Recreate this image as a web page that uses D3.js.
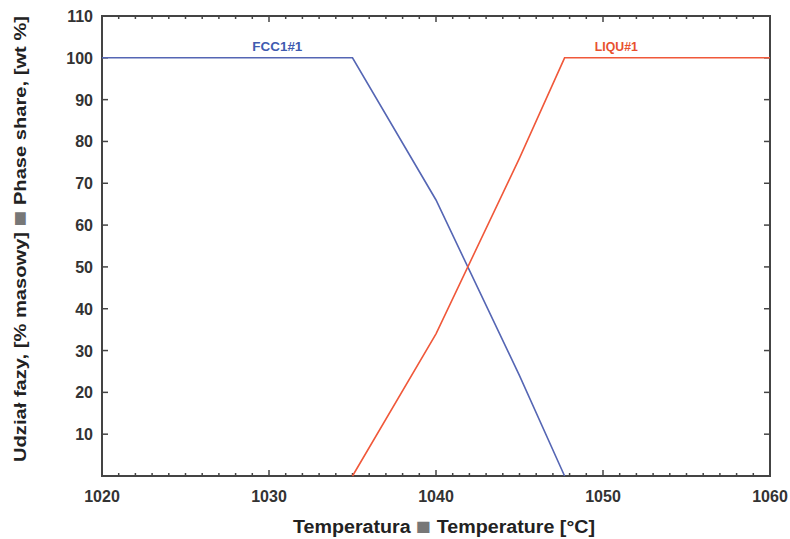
<!DOCTYPE html>
<html>
<head>
<meta charset="utf-8">
<script src="https://cdn.jsdelivr.net/npm/d3@7"></script>
<style>
  body { margin: 0; background: #fff; }
  svg { display: block; font-family: Arial, "Liberation Sans", sans-serif; }
</style>
</head>
<body>
<svg id="chart" width="790" height="539"></svg>
<script>
// Phase share vs temperature (wt %)
const temperatures = [1020, 1035, 1040, 1045, 1047.7, 1060];
const fccValues    = [100, 100, 66, 24, 0, null];
const liquValues   = [null, 0, 34, 76, 100, 100];
const seriesNames  = ["FCC1#1", "LIQU#1"];
const xTickValues  = [1020, 1030, 1040, 1050, 1060];
const yTickValues  = [10, 20, 30, 40, 50, 60, 70, 80, 90, 100, 110];

const svg = d3.select("#chart");
const margin = { left: 102, right: 20, top: 16, bottom: 63 };
const W = 790, H = 539;
const x = d3.scaleLinear().domain([1020, 1060]).range([margin.left, W - margin.right]);
const y = d3.scaleLinear().domain([0, 110]).range([H - margin.bottom, margin.top]);

const axisColor = "#444";
const textColor = "#333";

// minor ticks every degree on bottom and top, pointing inward
const minorX = d3.range(1021, 1060, 1).filter(v => v % 10 !== 0);
const bottomY = y(0), topY = y(110);
const tickG = svg.append("g").attr("stroke", axisColor).attr("stroke-width", 1.5);
minorX.forEach(v => {
  tickG.append("line").attr("x1", x(v)).attr("x2", x(v)).attr("y1", bottomY).attr("y2", bottomY - 3);
  tickG.append("line").attr("x1", x(v)).attr("x2", x(v)).attr("y1", topY).attr("y2", topY + 3);
});
xTickValues.forEach(v => {
  tickG.append("line").attr("x1", x(v)).attr("x2", x(v)).attr("y1", bottomY).attr("y2", bottomY - 6);
  tickG.append("line").attr("x1", x(v)).attr("x2", x(v)).attr("y1", topY).attr("y2", topY + 6);
});
yTickValues.forEach(v => {
  tickG.append("line").attr("x1", x(1020)).attr("x2", x(1020) + 6).attr("y1", y(v)).attr("y2", y(v));
  tickG.append("line").attr("x1", x(1060)).attr("x2", x(1060) - 6).attr("y1", y(v)).attr("y2", y(v));
});

// frame
svg.append("rect")
  .attr("x", x(1020)).attr("y", y(110))
  .attr("width", x(1060) - x(1020)).attr("height", y(0) - y(110))
  .attr("fill", "none").attr("stroke", axisColor).attr("stroke-width", 2);

// tick labels
svg.append("g").selectAll("text").data(xTickValues).join("text")
  .attr("x", d => x(d)).attr("y", bottomY + 26)
  .attr("text-anchor", "middle")
  .attr("font-size", 16).attr("font-weight", "bold").attr("fill", textColor)
  .text(d => d);

svg.append("g").selectAll("text").data(yTickValues).join("text")
  .attr("x", x(1020) - 9).attr("y", d => y(d) + 6)
  .attr("text-anchor", "end")
  .attr("font-size", 16).attr("font-weight", "bold").attr("fill", textColor)
  .text(d => d);

// series lines
const line = d3.line()
  .defined(d => d[1] !== null)
  .x(d => x(d[0])).y(d => y(d[1]));

const fccData = temperatures.map((t, i) => [t, fccValues[i]]);
const liquData = temperatures.map((t, i) => [t, liquValues[i]]);

svg.append("path").datum(fccData)
  .attr("d", line).attr("fill", "none")
  .attr("stroke", "#5566b4").attr("stroke-width", 1.6);
svg.append("path").datum(liquData)
  .attr("d", line).attr("fill", "none")
  .attr("stroke", "#f0583a").attr("stroke-width", 1.6);

// series labels
svg.append("text")
  .attr("x", x(1030.5)).attr("y", y(100) - 7)
  .attr("text-anchor", "middle")
  .attr("font-size", 12).attr("font-weight", "bold").attr("fill", "#3f5bb0")
  .attr("textLength", 50).attr("lengthAdjust", "spacingAndGlyphs")
  .text(seriesNames[0]);
svg.append("text")
  .attr("x", x(1050.8)).attr("y", y(100) - 7)
  .attr("text-anchor", "middle")
  .attr("font-size", 12).attr("font-weight", "bold").attr("fill", "#e8502e")
  .attr("textLength", 43).attr("lengthAdjust", "spacingAndGlyphs")
  .text(seriesNames[1]);

// axis titles
const xTitle = svg.append("text")
  .attr("x", 444).attr("y", 533)
  .attr("text-anchor", "middle")
  .attr("font-size", 18).attr("font-weight", "bold").attr("fill", "#222")
  .attr("textLength", 302).attr("lengthAdjust", "spacingAndGlyphs");
xTitle.append("tspan").text("Temperatura ");
xTitle.append("tspan").attr("fill", "#777").attr("font-size", 23).attr("dy", 1).text("\u25A0");
xTitle.append("tspan").attr("dy", -1).text(" Temperature [°C]");

const yTitle = svg.append("text")
  .attr("transform", "translate(26,239) rotate(-90)")
  .attr("text-anchor", "middle")
  .attr("font-size", 17).attr("font-weight", "bold").attr("fill", "#222")
  .attr("textLength", 446).attr("lengthAdjust", "spacingAndGlyphs");
yTitle.append("tspan").text("Udział fazy, [% masowy] ");
yTitle.append("tspan").attr("fill", "#777").attr("font-size", 22).attr("dy", 1).text("\u25A0");
yTitle.append("tspan").attr("dy", -1).text(" Phase share, [wt %]");
</script>
</body>
</html>
